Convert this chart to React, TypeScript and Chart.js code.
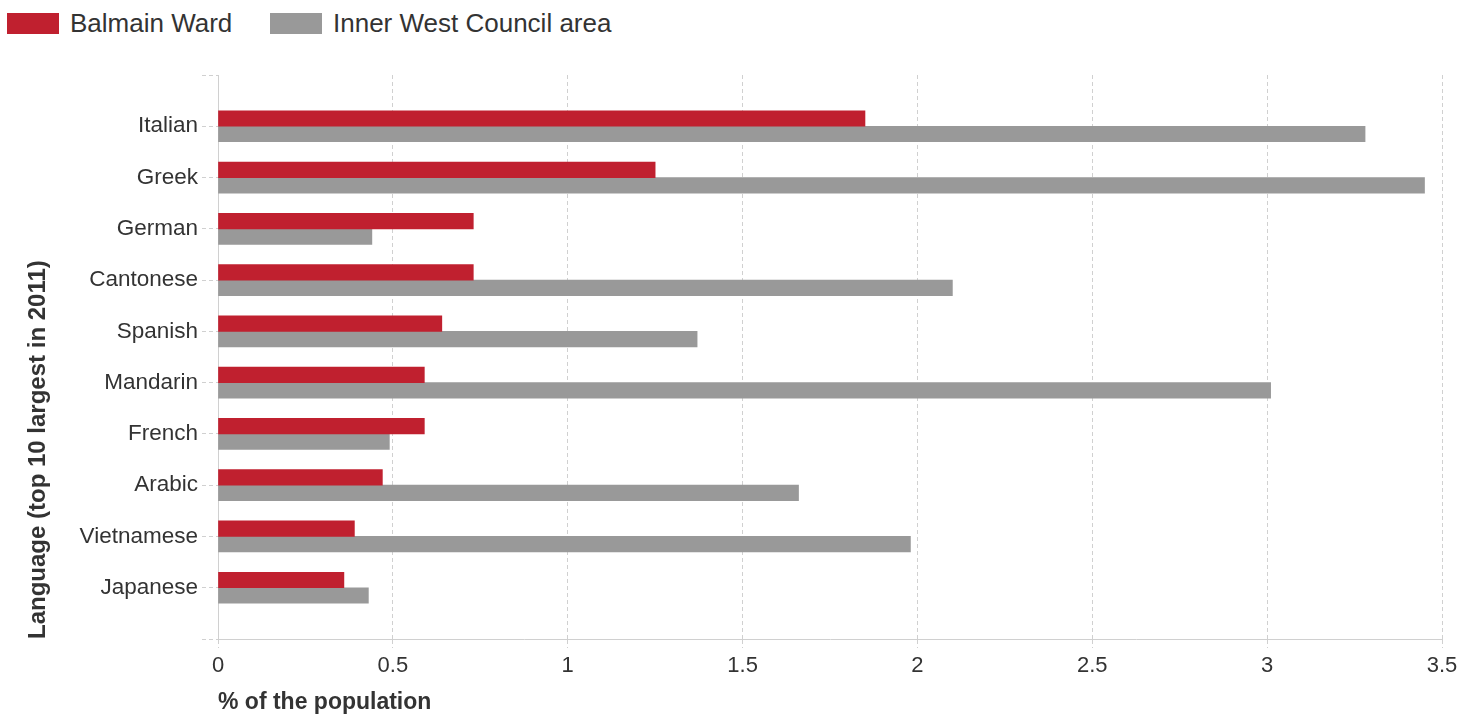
import React, { useEffect, useRef } from 'react';
import { Chart, registerables } from 'chart.js';

Chart.register(...registerables);

const categories = ['Italian', 'Greek', 'German', 'Cantonese', 'Spanish', 'Mandarin', 'French', 'Arabic', 'Vietnamese', 'Japanese'];
const balmainWard = [1.85, 1.25, 0.73, 0.73, 0.64, 0.59, 0.59, 0.47, 0.39, 0.36];
const innerWest = [3.28, 3.45, 0.44, 2.1, 1.37, 3.01, 0.49, 1.66, 1.98, 0.43];
const seriesNames = ['Balmain Ward', 'Inner West Council area'];
const seriesColors = ['#C0202F', '#999999'];
const xTickValues = [0, 0.5, 1, 1.5, 2, 2.5, 3, 3.5];
const xTitle = '% of the population';
const yTitle = 'Language (top 10 largest in 2011)';

const FONT = "'Liberation Sans', Arial, sans-serif";
const TEXT = '#333333';
const GRID = '#d0d0d0';

export default function App() {
  const ref = useRef<HTMLCanvasElement | null>(null);

  useEffect(() => {
    if (!ref.current) return;
    // pad the category axis with an empty slot above and below
    const labels = ['', ...categories, ''];
    const pad = (arr: number[]) => [null, ...arr, null];
    const chart = new Chart(ref.current, {
      type: 'bar',
      data: {
        labels,
        datasets: [
          { label: seriesNames[0], data: pad(balmainWard) as any, backgroundColor: seriesColors[0], borderWidth: 0, barThickness: 15.5 },
          { label: seriesNames[1], data: pad(innerWest) as any, backgroundColor: seriesColors[1], borderWidth: 0, barThickness: 15.5 },
        ],
      },
      options: {
        indexAxis: 'y',
        animation: false,
        responsive: true,
        maintainAspectRatio: false,
        layout: { padding: { top: 75, right: 33, bottom: 0, left: 0 } },
        plugins: { legend: { display: false }, tooltip: { enabled: false } },
        scales: {
          x: {
            min: xTickValues[0],
            max: xTickValues[xTickValues.length - 1],
            afterBuildTicks: (s: any) => { s.ticks = xTickValues.map((v) => ({ value: v })); },
            ticks: { color: TEXT, font: { family: FONT, size: 22 }, padding: 5, maxRotation: 0, callback: (v: any) => String(v) },
            grid: { color: GRID, drawTicks: true, tickLength: 9, tickColor: GRID, tickBorderDash: [4, 3] },
            border: { display: true, color: GRID, width: 1, dash: [4, 3] },
            title: { display: true, text: xTitle, align: 'start', color: TEXT, font: { family: FONT, size: 23, weight: 'bold' }, padding: { top: 0, bottom: 11 } },
            afterFit: (s: any) => { s.height = 88; },
          },
          y: {
            offset: false,
            ticks: { color: TEXT, font: { family: FONT, size: 22.5 }, padding: 4, autoSkip: false },
            grid: { offset: false, drawOnChartArea: false, drawTicks: true, tickLength: 16, tickColor: GRID, tickBorderDash: [4, 3], color: GRID },
            border: { display: true, color: GRID, width: 1 },
            title: { display: true, text: yTitle, align: 'start', color: TEXT, font: { family: FONT, size: 24, weight: 'bold' }, padding: { top: 24, bottom: 0 } },
            afterFit: (s: any) => { s.width = 218; },
          },
        },
      } as any,
    });
    return () => chart.destroy();
  }, []);

  const legendLeft = [7, 270];
  return (
    <div style={{ position: 'fixed', left: 0, top: 0, width: 1475, height: 727, background: '#fff', overflow: 'hidden' }}>
      {seriesNames.map((name, i) => (
        <div key={name} style={{ position: 'absolute', left: legendLeft[i], top: 13, height: 21, display: 'flex', alignItems: 'center', whiteSpace: 'nowrap' }}>
          <span style={{ display: 'inline-block', width: 52, height: 21, background: seriesColors[i] }} />
          <span style={{ marginLeft: 11, fontFamily: FONT, fontSize: 26, color: TEXT, lineHeight: '21px' }}>{name}</span>
        </div>
      ))}
      <canvas ref={ref} style={{ position: 'absolute', left: 0, top: 0, width: 1475, height: 727 }} />
    </div>
  );
}
